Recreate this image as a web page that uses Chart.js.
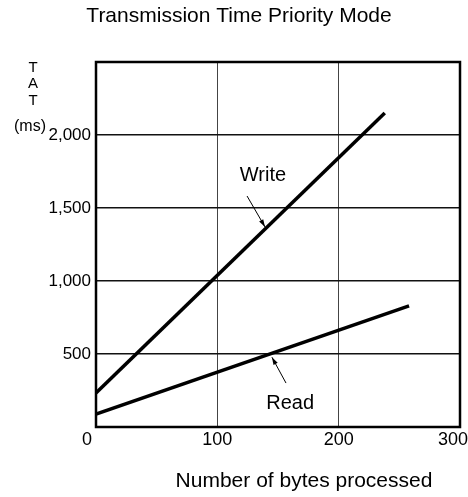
<!DOCTYPE html>
<html>
<head>
<meta charset="utf-8">
<script src="https://cdn.jsdelivr.net/npm/chart.js@4/dist/chart.umd.min.js"></script>
<style>
  html, body { margin: 0; padding: 0; background: #fff; }
  #wrap { width: 468px; height: 497px; }
</style>
</head>
<body>
<div id="wrap"><canvas id="c" width="468" height="497"></canvas></div>
<script>
// ---- data ----
const chartTitle = 'Transmission Time Priority Mode';
const xAxisTitle = 'Number of bytes processed';
const yAxisLetters = ['T', 'A', 'T'];
const yUnit = '(ms)';
const writeX = [0, 238];
const writeY = [233, 2150];
const readX = [0, 258];
const readY = [89, 829];
const xTickValues = [0, 100, 200, 300];
const xTickLabels = ['0', '100', '200', '300'];
const yTickValues = [0, 500, 1000, 1500, 2000, 2500];
const yTickLabels = ['', '500', '1,000', '1,500', '2,000', ''];
// annotations: label text, text position, arrow tail, arrow head (data units)
const writeNote = { text: 'Write', at: [137.6, 1726], tail: [124.5, 1582], head: [139.3, 1370] };
const readNote = { text: 'Read', at: [160, 158], tail: [156.6, 301], head: [145, 478] };

const FONT = '"Liberation Sans", Arial, Helvetica, sans-serif';

function toPts(xs, ys) { return xs.map((x, i) => ({ x: x, y: ys[i] })); }

const extras = {
  id: 'extras',
  afterDraw(chart) {
    const { ctx, chartArea: a, scales: { x, y } } = chart;
    ctx.save();
    // plot border
    ctx.strokeStyle = '#000';
    ctx.lineWidth = 2.5;
    ctx.strokeRect(a.left, a.top, a.right - a.left, a.bottom - a.top);

    ctx.fillStyle = '#000';
    ctx.textAlign = 'center';
    ctx.textBaseline = 'middle';
    // title
    ctx.font = '21px ' + FONT;
    ctx.fillText(chartTitle, 239, 16);
    // x axis title
    ctx.fillText(xAxisTitle, 304, 481);
    // x tick labels (end labels nudged left as in the original)
    ctx.font = '18px ' + FONT;
    const nudge = [-9, 0, 0, -7];
    xTickValues.forEach((v, i) => {
      ctx.fillText(xTickLabels[i], x.getPixelForValue(v) + nudge[i], a.bottom + 13);
    });
    // y axis label
    ctx.font = '15px ' + FONT;
    const ly = [68, 84, 101];
    yAxisLetters.forEach((t, i) => ctx.fillText(t, 33, ly[i]));
    ctx.font = '16px ' + FONT;
    ctx.fillText(yUnit, 30, 127);

    // annotations
    [writeNote, readNote].forEach(n => {
      ctx.font = '20px ' + FONT;
      ctx.fillText(n.text, x.getPixelForValue(n.at[0]), y.getPixelForValue(n.at[1]));
      const tx = x.getPixelForValue(n.tail[0]), ty = y.getPixelForValue(n.tail[1]);
      const hx = x.getPixelForValue(n.head[0]), hy = y.getPixelForValue(n.head[1]);
      ctx.lineWidth = 1;
      ctx.beginPath(); ctx.moveTo(tx, ty); ctx.lineTo(hx, hy); ctx.stroke();
      const ang = Math.atan2(hy - ty, hx - tx);
      const L = 8, W = 0.3;
      ctx.beginPath();
      ctx.moveTo(hx, hy);
      ctx.lineTo(hx - L * Math.cos(ang - W), hy - L * Math.sin(ang - W));
      ctx.lineTo(hx - L * Math.cos(ang + W), hy - L * Math.sin(ang + W));
      ctx.closePath(); ctx.fill();
    });
    ctx.restore();
  }
};

new Chart(document.getElementById('c'), {
  type: 'line',
  data: {
    datasets: [
      { label: 'Write', data: toPts(writeX, writeY), borderColor: '#000', borderWidth: 3.5, pointRadius: 0, fill: false, tension: 0 },
      { label: 'Read', data: toPts(readX, readY), borderColor: '#000', borderWidth: 3.5, pointRadius: 0, fill: false, tension: 0 }
    ]
  },
  options: {
    responsive: false,
    animation: false,
    devicePixelRatio: 1,
    layout: { padding: { top: 62, right: 8, bottom: 0, left: 0 } },
    plugins: { legend: { display: false }, title: { display: false }, tooltip: { enabled: false } },
    scales: {
      x: {
        type: 'linear', min: 0, max: 300,
        afterFit(s) { s.height = 70; s.paddingLeft = 0; s.paddingRight = 0; },
        afterBuildTicks(s) { s.ticks = xTickValues.map(v => ({ value: v })); },
        ticks: { display: false },
        grid: {
          drawTicks: false, tickLength: 0,
          color: (c) => (c.tick && (c.tick.value === 100 || c.tick.value === 200)) ? '#444' : 'rgba(0,0,0,0)',
          lineWidth: 1
        },
        border: { display: false }
      },
      y: {
        type: 'linear', min: 0, max: 2500,
        afterFit(s) { s.width = 96; },
        afterBuildTicks(s) { s.ticks = yTickValues.map(v => ({ value: v })); },
        ticks: {
          callback: (v) => yTickLabels[yTickValues.indexOf(v)] ?? '',
          font: { family: FONT, size: 17 }, color: '#000', padding: 5
        },
        grid: {
          drawTicks: false, tickLength: 0,
          color: (c) => (c.tick && c.tick.value > 0 && c.tick.value < 2500) ? '#111' : 'rgba(0,0,0,0)',
          lineWidth: 1.5
        },
        border: { display: false }
      }
    }
  },
  plugins: [extras]
});
</script>
</body>
</html>
